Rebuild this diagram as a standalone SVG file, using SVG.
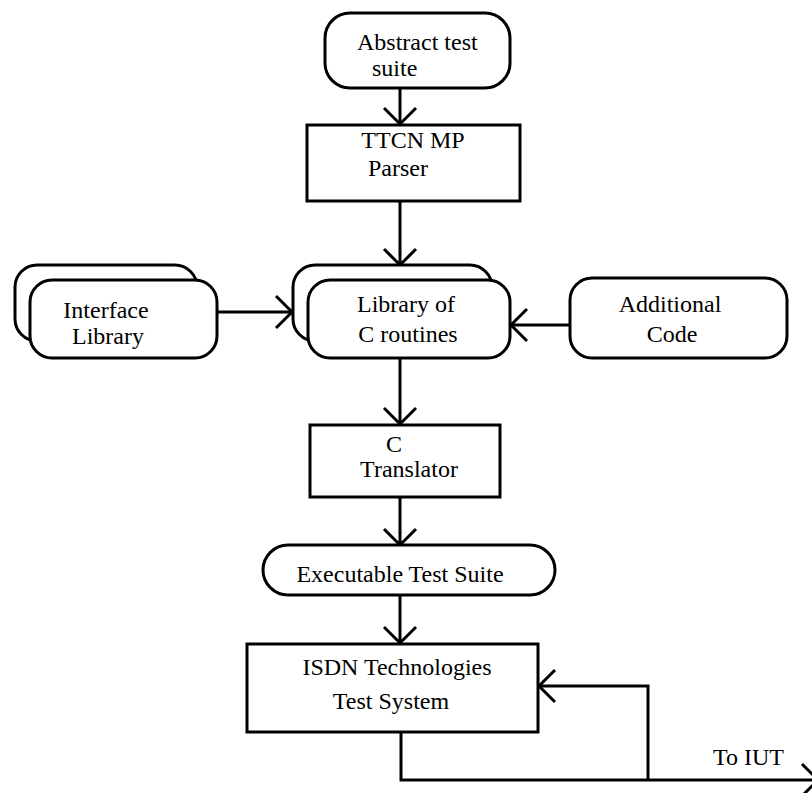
<svg xmlns="http://www.w3.org/2000/svg" width="812" height="793" viewBox="0 0 812 793">
<style>
  .box { fill: #fff; stroke: #000; stroke-width: 3; }
  .line { fill: none; stroke: #000; stroke-width: 3; }
  .t { font-family: 'Liberation Serif', 'DejaVu Serif', serif; font-size: 24px; fill: #000; }
</style>
<defs>
  <marker id="arr" markerUnits="userSpaceOnUse" markerWidth="40" markerHeight="40" refX="0" refY="0" viewBox="-20 -20 40 40" orient="auto" overflow="visible">
    <path d="M-16,-16 L0,0 L-16,16" fill="none" stroke="#000" stroke-width="3"/>
  </marker>
</defs>
<rect width="812" height="793" fill="#fff"/>
<g id="connectors">
  <path class="line" d="M400,88 L400,124" marker-end="url(#arr)"/>
  <path class="line" d="M400,201 L400,265" marker-end="url(#arr)"/>
  <path class="line" d="M217,312 L292,312" marker-end="url(#arr)"/>
  <path class="line" d="M570,325 L511,325" marker-end="url(#arr)"/>
  <path class="line" d="M400,358 L400,424" marker-end="url(#arr)"/>
  <path class="line" d="M400,497 L400,545" marker-end="url(#arr)"/>
  <path class="line" d="M400,595 L400,643" marker-end="url(#arr)"/>
  <path class="line" d="M401,732 L401,780 L818,780" marker-end="url(#arr)"/>
  <path class="line" d="M648,780 L648,686 L539,686" marker-end="url(#arr)"/>
  <text class="t" x="713" y="765">To IUT</text>
</g>
<g id="abstract">
  <rect class="box" x="325" y="13" width="185" height="75" rx="25"/>
  <text class="t" x="357" y="50">Abstract test</text>
  <text class="t" x="372" y="76">suite</text>
</g>
<g id="parser">
  <rect class="box" x="307" y="125" width="213" height="76"/>
  <text class="t" x="413" y="148" text-anchor="middle">TTCN MP</text>
  <text class="t" x="398" y="176" text-anchor="middle">Parser</text>
</g>
<g id="interface">
  <rect class="box" x="15" y="265" width="182" height="76" rx="22"/>
  <rect class="box" x="30" y="280" width="187" height="78" rx="22"/>
  <text class="t" x="106" y="318" text-anchor="middle">Interface</text>
  <text class="t" x="108" y="344" text-anchor="middle">Library</text>
</g>
<g id="library">
  <rect class="box" x="293" y="265" width="199" height="76" rx="22"/>
  <rect class="box" x="308" y="280" width="202" height="78" rx="22"/>
  <text class="t" x="406" y="312" text-anchor="middle">Library of</text>
  <text class="t" x="408" y="342" text-anchor="middle">C routines</text>
</g>
<g id="additional">
  <rect class="box" x="570" y="278" width="217" height="80" rx="22"/>
  <text class="t" x="670" y="312" text-anchor="middle">Additional</text>
  <text class="t" x="672" y="342" text-anchor="middle">Code</text>
</g>
<g id="translator">
  <rect class="box" x="310" y="425" width="190" height="72"/>
  <text class="t" x="394" y="452" text-anchor="middle">C</text>
  <text class="t" x="409" y="477" text-anchor="middle">Translator</text>
</g>
<g id="executable">
  <rect class="box" x="263" y="545" width="292" height="50" rx="25"/>
  <text class="t" x="400" y="582" text-anchor="middle">Executable Test Suite</text>
</g>
<g id="isdn">
  <rect class="box" x="247" y="644" width="291" height="88"/>
  <text class="t" x="397" y="675" text-anchor="middle">ISDN Technologies</text>
  <text class="t" x="391" y="709" text-anchor="middle">Test System</text>
</g>
</svg>
